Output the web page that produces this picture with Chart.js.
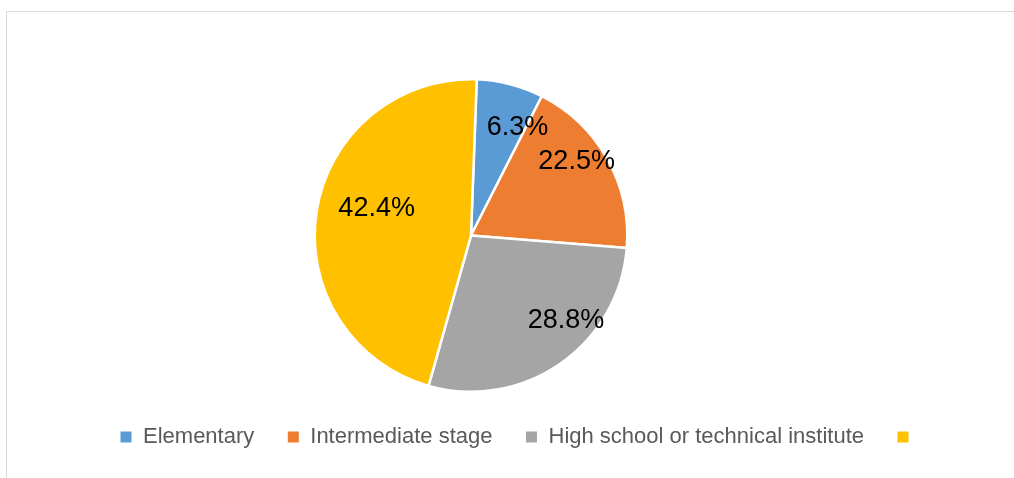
<!DOCTYPE html>
<html><head>
<meta charset="UTF-8">
<title>Education level</title>
<script src="https://cdn.jsdelivr.net/npm/chart.js@4.4.0/dist/chart.umd.min.js"></script>
<style>
    body, html {
        margin: 0;
        padding: 0;
        background: #fff;
        overflow: hidden;
    }
    .frame {
        position: absolute;
        left: 6px;
        top: 11px;
        width: 1100px;
        height: 600px;
        border: 1px solid #d9d9d9;
    }
    .wrap {
        position: absolute;
        left: 0;
        top: 0;
    }
</style>
</head>
<body>
<div class="frame"></div>
<div class="wrap"><canvas id="eduChart" width="1014" height="478"></canvas></div>

<script>
// categories (the last legend entry has no text in the original)
const categories = ['Elementary', 'Intermediate stage', 'High school or technical institute', ''];
// slice sizes as drawn in the picture (percent of the circle)
const shares = [6.9, 18.8, 28.1, 46.2];
// data labels as printed on the slices
const printedLabels = ['6.3%', '22.5%', '28.8%', '42.4%'];

const sliceColors = ['#5B9BD5', '#ED7D31', '#A5A5A5', '#FFC000'];

// where each label sits: angle nudge (deg) from the slice middle, and fraction of the radius
const labelNudge = [7.7, -7, -14, 8.6];
const labelRadius = [0.77, 0.83, 0.80, 0.64];

const sliceLabels = {
    id: 'sliceLabels',
    afterDatasetsDraw(chart) {
        const ctx = chart.ctx;
        const meta = chart.getDatasetMeta(0);
        ctx.save();
        ctx.font = '27px "Liberation Sans", Arial, sans-serif';
        ctx.fillStyle = '#000';
        ctx.textAlign = 'center';
        ctx.textBaseline = 'middle';
        meta.data.forEach((arc, i) => {
            const p = arc.getProps(['x', 'y', 'startAngle', 'endAngle', 'outerRadius'], true);
            const a = (p.startAngle + p.endAngle) / 2 + labelNudge[i] * Math.PI / 180;
            const r = p.outerRadius * labelRadius[i];
            ctx.fillText(printedLabels[i], p.x + Math.cos(a) * r + 1, p.y + Math.sin(a) * r + 3);
        });
        ctx.restore();
    }
};

// the legend in the original is not centred under the pie
const legendShift = {
    id: 'legendShift',
    afterLayout(chart) {
        chart.legend.left += 49;
        chart.legend.right += 49;
    }
};

new Chart(document.getElementById('eduChart'), {
    type: 'pie',
    data: {
        labels: categories,
        datasets: [{
            data: shares,
            backgroundColor: sliceColors,
            borderColor: '#fff',
            borderWidth: 2.5
        }]
    },
    options: {
        responsive: false,
        animation: false,
        rotation: 2.1,
        layout: {
            padding: { top: 78, right: 72, bottom: 20, left: 0 }
        },
        plugins: {
            tooltip: { enabled: false },
            legend: {
                position: 'bottom',
                labels: {
                    boxWidth: 12,
                    boxHeight: 12,
                    padding: 33,
                    color: '#595959',
                    font: { family: '"Liberation Sans", Arial, sans-serif', size: 22 },
                    generateLabels(chart) {
                        return categories.map((c, i) => ({
                            text: c,
                            fillStyle: sliceColors[i],
                            strokeStyle: '#fff',
                            lineWidth: 1,
                            fontColor: '#595959',
                            index: i
                        }));
                    }
                }
            }
        }
    },
    plugins: [sliceLabels, legendShift]
});
</script>
</body></html>
